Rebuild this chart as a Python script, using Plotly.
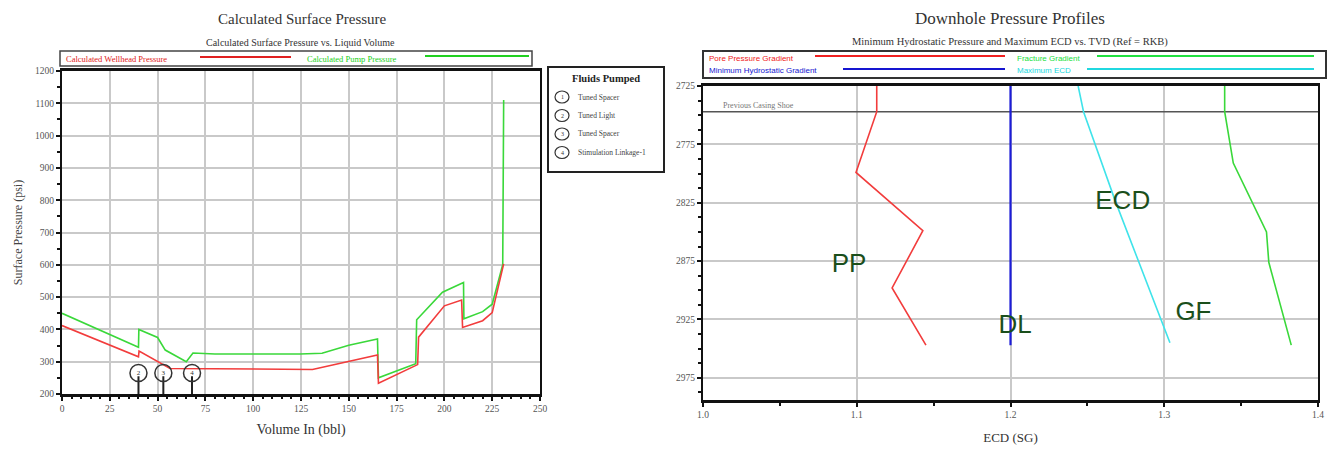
import plotly.graph_objects as go

# ---------------- data: left chart ----------------
vol_pump = [0, 40, 40.2, 50, 54, 65, 68.5, 80, 124.5, 136, 150, 165, 165.5, 185, 185.5, 199, 210, 210.2, 220, 225, 230.5, 231]
p_pump = [450, 345, 400, 375, 336, 300, 327, 324, 324, 326, 351, 370, 250, 294, 430, 515, 545, 433, 455, 478, 600, 1110]

vol_wh = [0, 40, 40.3, 56.5, 131, 150, 165, 165.5, 186, 186.5, 200, 209, 209.5, 220, 225, 231]
p_wh = [412, 315, 333, 279, 276, 300, 321, 233, 291, 376, 473, 491, 406, 427, 452, 603]

fluid_vol = [40, 53, 68]
fluid_num = ["2", "3", "4"]
fluid_marker_p = 265
fluid_names = ["Tuned Spacer", "Tuned Light", "Tuned Spacer", "Stimulation Linkage-1"]

x_ticks_left = [0, 25, 50, 75, 100, 125, 150, 175, 200, 225, 250]
y_ticks_left = [200, 300, 400, 500, 600, 700, 800, 900, 1000, 1100, 1200]

# ---------------- data: right chart ----------------
pp_sg = [1.113, 1.113, 1.0995, 1.143, 1.123, 1.145]
pp_tvd = [2725, 2747, 2799, 2849, 2898, 2947]

dl_sg = [1.2, 1.2]
dl_tvd = [2725, 2947]

ecd_sg = [1.244, 1.2475, 1.268, 1.286, 1.3037]
ecd_tvd = [2725, 2747, 2823, 2885, 2945]

gf_sg = [1.3393, 1.3393, 1.3449, 1.3665, 1.368, 1.3826]
gf_tvd = [2725, 2747, 2791, 2850, 2876, 2947]

casing_shoe_tvd = 2747
x_ticks_right = [1.0, 1.1, 1.2, 1.3, 1.4]
y_ticks_right = [2725, 2775, 2825, 2875, 2925, 2975]

curve_labels = ["PP", "DL", "ECD", "GF"]
curve_label_sg = [1.095, 1.203, 1.273, 1.319]
curve_label_tvd = [2879, 2931, 2825, 2920]

# page is 1336x455; the html body has an 8px margin, so the figure is 1320x439
OFF = 8
W, H = 1336 - 2 * OFF, 455 - 2 * OFF
def px(x):
    return (x - OFF) / W
def py(y):
    return 1 - (y - OFF) / H

SERIF = "Liberation Serif"
RED = "#f23c3c"
GREEN = "#3ad83a"

fig = go.Figure()

# left chart traces
fig.add_trace(go.Scatter(x=vol_pump, y=p_pump, mode="lines", line=dict(color=GREEN, width=1.6),
                         name="Calculated Pump Pressure", xaxis="x", yaxis="y"))
fig.add_trace(go.Scatter(x=vol_wh, y=p_wh, mode="lines", line=dict(color=RED, width=1.6),
                         name="Calculated Wellhead Pressure", xaxis="x", yaxis="y"))
stem_x, stem_y = [], []
for v in fluid_vol:
    stem_x += [v, v, None]
    stem_y += [200, fluid_marker_p - 10, None]
fig.add_trace(go.Scatter(x=stem_x, y=stem_y, mode="lines", line=dict(color="#222", width=2),
                         xaxis="x", yaxis="y", hoverinfo="skip"))
fig.add_trace(go.Scatter(x=fluid_vol, y=[fluid_marker_p] * len(fluid_vol), mode="markers+text",
                         marker=dict(symbol="circle-open", size=17, color="#333", line=dict(width=1.5)),
                         text=fluid_num, textposition="middle center",
                         textfont=dict(family=SERIF, size=7, color="#333"),
                         xaxis="x", yaxis="y"))

# right chart traces
fig.add_trace(go.Scatter(x=[x_ticks_right[0], x_ticks_right[-1]], y=[casing_shoe_tvd, casing_shoe_tvd],
                         mode="lines", line=dict(color="#555", width=1.6), xaxis="x2", yaxis="y2",
                         hoverinfo="skip"))
fig.add_trace(go.Scatter(x=pp_sg, y=pp_tvd, mode="lines", line=dict(color=RED, width=1.6),
                         name="Pore Pressure Gradient", xaxis="x2", yaxis="y2"))
fig.add_trace(go.Scatter(x=dl_sg, y=dl_tvd, mode="lines", line=dict(color="#1c1cd8", width=2.2),
                         name="Minimum Hydrostatic Gradient", xaxis="x2", yaxis="y2"))
fig.add_trace(go.Scatter(x=ecd_sg, y=ecd_tvd, mode="lines", line=dict(color="#3fe3ea", width=1.6),
                         name="Maximum ECD", xaxis="x2", yaxis="y2"))
fig.add_trace(go.Scatter(x=gf_sg, y=gf_tvd, mode="lines", line=dict(color=GREEN, width=1.6),
                         name="Fracture Gradient", xaxis="x2", yaxis="y2"))
fig.add_trace(go.Scatter(x=curve_label_sg, y=curve_label_tvd, mode="text", text=curve_labels,
                         textfont=dict(family="Liberation Sans", size=26, color="#1b4f1b"),
                         xaxis="x2", yaxis="y2"))

tickfont = dict(family=SERIF, size=9.5, color="#555")
common_axis = dict(showgrid=True, gridcolor="#c9c9c9", gridwidth=1.5, showline=True,
                   linecolor="#111", mirror=True, ticks="outside", ticklen=4, tickcolor="#111",
                   tickwidth=1.5, tickfont=tickfont, zeroline=False, automargin=False)

fig.update_layout(
    width=W, height=H, margin=dict(l=0, r=0, t=0, b=0, autoexpand=False),
    paper_bgcolor="white", plot_bgcolor="white", showlegend=False,
    xaxis=dict(common_axis, domain=[px(62), px(540)], range=[0, 250], tickvals=x_ticks_left,
               linewidth=2.5, minor=dict(dtick=5, ticks="outside", ticklen=2, tickcolor="#111", showgrid=False),
               title=dict(text="Volume In (bbl)", font=dict(family=SERIF, size=14, color="#333"), standoff=12),
               anchor="y"),
    yaxis=dict(common_axis, domain=[py(394), py(71)], range=[200, 1200], tickvals=y_ticks_left,
               linewidth=2, minor=dict(dtick=50, ticks="outside", ticklen=3, tickcolor="#111", showgrid=False),
               title=dict(text="Surface Pressure (psi)", font=dict(family=SERIF, size=12, color="#444"), standoff=10),
               anchor="x"),
    xaxis2=dict(common_axis, domain=[px(703), px(1318)], range=[1.0, 1.4], tickvals=x_ticks_right,
                tickformat=".1f", linewidth=2.5,
                minor=dict(dtick=0.05, ticks="outside", ticklen=3, tickcolor="#111", showgrid=False),
                title=dict(text="ECD (SG)", font=dict(family=SERIF, size=13, color="#333"), standoff=14),
                anchor="y2"),
    yaxis2=dict(common_axis, domain=[py(400), py(86)], range=[2994, 2725], tickvals=y_ticks_right,
                linewidth=2, minor=dict(dtick=12.5, ticks="outside", ticklen=3, tickcolor="#111", showgrid=False),
                anchor="x2"),
)

ann = []
shapes = []

def label(x, y, text, size, color, family=SERIF, xanchor="center"):
    ann.append(dict(x=px(x), y=py(y), xref="paper", yref="paper", text=text, showarrow=False,
                    xanchor=xanchor, yanchor="middle", font=dict(family=family, size=size, color=color)))

# titles
label(302, 19, "Calculated Surface Pressure", 15, "#333")
label(300, 42, "Calculated Surface Pressure vs. Liquid Volume", 10, "#333")
label(1010, 19, "Downhole Pressure Profiles", 17, "#333")
label(1010, 42, "Minimum Hydrostatic Pressure and Maximum ECD vs. TVD (Ref = RKB)", 10.5, "#333")

# left legend box
shapes.append(dict(type="rect", xref="paper", yref="paper", x0=px(60), x1=px(532), y0=py(66), y1=py(51),
                   line=dict(color="#444", width=1.5)))
label(64, 58.5, "Calculated Wellhead Pressure", 8.5, "#e02020", xanchor="left")
shapes.append(dict(type="line", xref="paper", yref="paper", x0=px(200), x1=px(291), y0=py(57), y1=py(57),
                   line=dict(color="#e02020", width=2)))
label(305, 58.5, "Calculated Pump Pressure", 8.5, "#20d020", xanchor="left")
shapes.append(dict(type="line", xref="paper", yref="paper", x0=px(425), x1=px(529), y0=py(56), y1=py(56),
                   line=dict(color="#20d020", width=2)))

# fluids pumped box
shapes.append(dict(type="rect", xref="paper", yref="paper", x0=px(548), x1=px(664), y0=py(172), y1=py(67),
                   line=dict(color="#222", width=2)))
label(606, 78, "<b>Fluids Pumped</b>", 10.5, "#222")
for i, name in enumerate(fluid_names):
    yy = 97 + i * 18.5
    shapes.append(dict(type="circle", xref="paper", yref="paper", x0=px(555), x1=px(569),
                       y0=py(yy + 6), y1=py(yy - 6), line=dict(color="#333", width=1.2)))
    label(562, yy, str(i + 1), 6, "#333")
    label(576, yy, name, 7.5, "#444", xanchor="left")

# right legend box
shapes.append(dict(type="rect", xref="paper", yref="paper", x0=px(703), x1=px(1326), y0=py(78), y1=py(51),
                   line=dict(color="#333", width=2)))
leg_items = [("Pore Pressure Gradient", "#f02020", 707, 815, 1005, 58),
             ("Fracture Gradient", "#20e040", 1015, 1097, 1314, 58),
             ("Minimum Hydrostatic Gradient", "#1515d0", 707, 843, 1005, 71),
             ("Maximum ECD", "#20d8e0", 1015, 1087, 1314, 71)]
for txt, col, tx, l0, l1, yy in leg_items:
    label(tx, yy, txt, 8, col, family="Liberation Sans", xanchor="left")
    shapes.append(dict(type="line", xref="paper", yref="paper", x0=px(l0), x1=px(l1), y0=py(yy - 2),
                       y1=py(yy - 2), line=dict(color=col, width=2.2)))

# casing shoe label
ann.append(dict(x=1.012, y=casing_shoe_tvd, xref="x2", yref="y2", text="Previous Casing Shoe",
                xanchor="left", yanchor="bottom", showarrow=False,
                font=dict(family=SERIF, size=8, color="#777")))

fig.update_layout(annotations=ann, shapes=shapes)
fig.write_html("out.html")
